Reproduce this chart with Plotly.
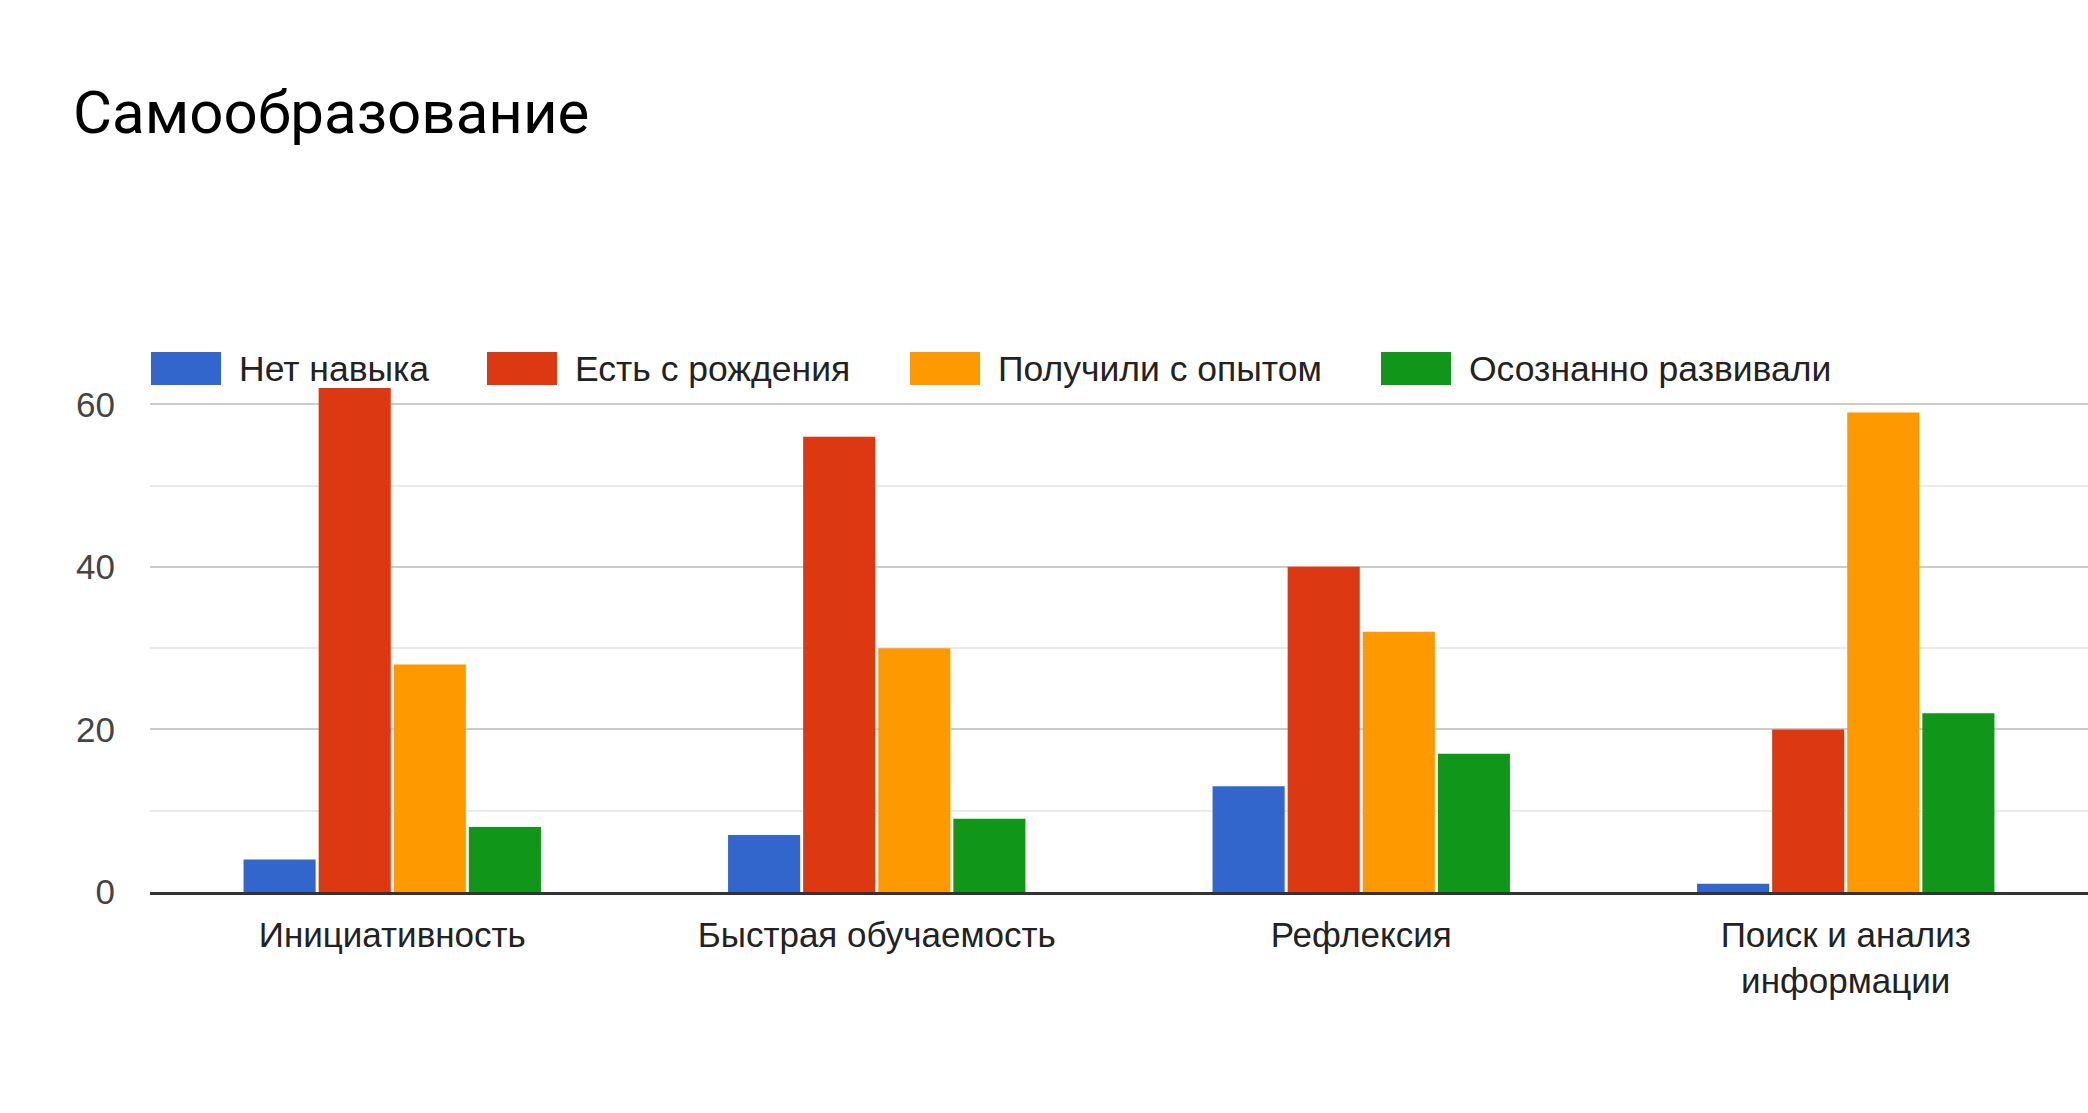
import plotly.graph_objects as go

# categories and values
categories = ["Инициативность", "Быстрая обучаемость", "Рефлексия", "Поиск и анализ<br>информации"]
series_names = ["Нет навыка", "Есть с рождения", "Получили с опытом", "Осознанно развивали"]
no_skill = [4, 7, 13, 1]
from_birth = [62, 56, 40, 20]
by_experience = [28, 30, 32, 59]
developed = [8, 9, 17, 22]
colors = ["#3366cc", "#dc3912", "#ff9900", "#109618"]

W, H = 2088, 1113
L, R, T, B = 150, 0, 388, 221


def paper_x(px):
    return (px - L) / (W - L - R)


def paper_y(py):
    return (H - B - py) / (H - T - B)


fig = go.Figure()
for name, vals, col in zip(series_names, [no_skill, from_birth, by_experience, developed], colors):
    fig.add_trace(go.Bar(x=categories, y=vals, name=name, marker=dict(color=col, line=dict(width=0)),
                         showlegend=False))

# legend drawn by hand: google-style wide swatches
swatch_left = [151, 487, 910, 1381]
shapes = []
annotations = []
for name, col, sx in zip(series_names, colors, swatch_left):
    shapes.append(dict(type="rect", xref="paper", yref="paper",
                       x0=paper_x(sx), x1=paper_x(sx + 70), y0=paper_y(385), y1=paper_y(352),
                       fillcolor=col, line=dict(width=0)))
    annotations.append(dict(text=name, xref="paper", yref="paper", x=paper_x(sx + 86), y=paper_y(369),
                            xanchor="left", yanchor="middle", showarrow=False,
                            font=dict(family="Liberation Sans, Arial", size=35.5, color="#222222")))

fig.update_layout(
    width=W, height=H,
    margin=dict(l=L, r=R, t=T, b=B),
    paper_bgcolor="white", plot_bgcolor="white",
    barmode="group", bargap=0.38, bargroupgap=0.04,
    title=dict(text="Самообразование", x=73 / W, xanchor="left", xref="container",
               y=1 - 112 / H, yanchor="middle", yref="container",
               font=dict(family="Roboto", size=60, color="#000000")),
    shapes=shapes, annotations=annotations,
    font=dict(family="Liberation Sans, Arial", size=35, color="#222222"),
)
fig.update_xaxes(showgrid=False, showline=True, linecolor="#333333", linewidth=3,
                 ticks="", ticklabelstandoff=10, tickfont=dict(size=35, color="#222222"))
fig.update_yaxes(range=[0, 62], dtick=20, tick0=0, showgrid=True, gridcolor="#cccccc", gridwidth=2,
                 zeroline=False, showline=False, ticks="", ticklabelstandoff=34,
                 tickfont=dict(size=35, color="#444444"),
                 minor=dict(dtick=10, tick0=0, showgrid=True, gridcolor="#ebebeb", gridwidth=2))

fig.write_html("out.html", config={"displayModeBar": False},
               post_script="document.body.style.margin='0';")
